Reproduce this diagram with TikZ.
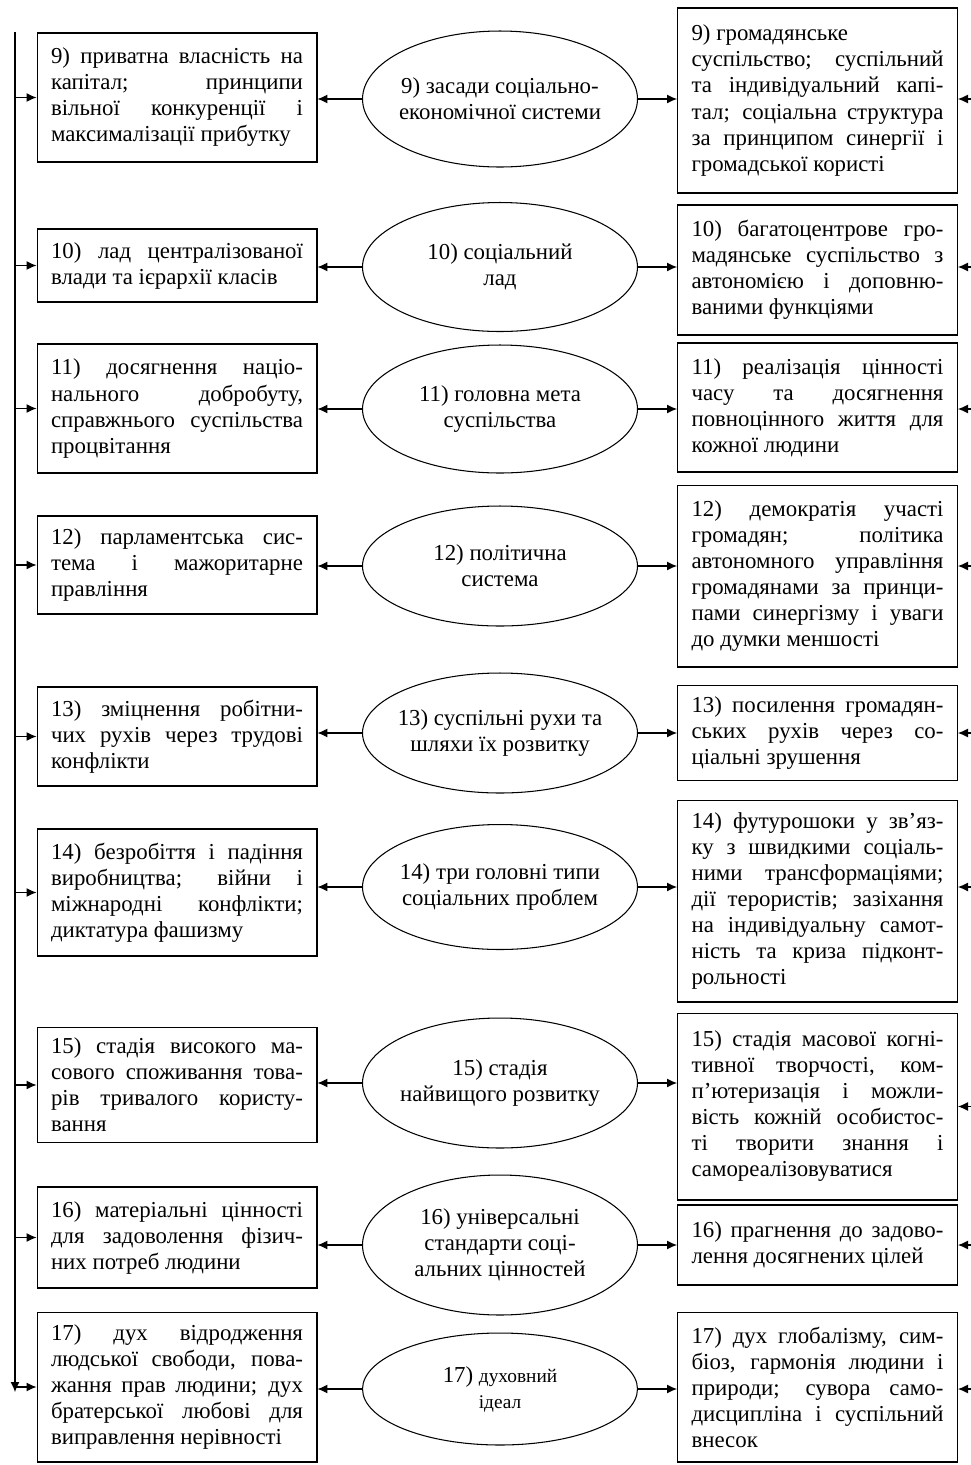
\documentclass[tikz,border=0pt]{standalone}
\usepackage{fontspec}
\setmainfont{Liberation Serif}
\usetikzlibrary{shapes.geometric, arrows.meta}

\begin{document}
\begin{tikzpicture}[x=0.02cm, y=-0.02cm, line width=0.6pt,
    font=\fontsize{13}{14.8}\selectfont,
    sbox/.style={draw, text width=5.04cm, inner xsep=0.28cm, inner ysep=0.1cm, align=justify},  % text boxes on both sides
    goal/.style={draw, ellipse, minimum width=5.5cm, inner xsep=-0.15cm, inner ysep=0pt, align=center},  % middle ellipses
    arr/.style={-{Latex[length=2mm,width=1.8mm]}}]  % small filled arrow tips
    \useasboundingbox (0,0) rectangle (971,1465);

    % Helper points
    \coordinate (top) at (15,32);  % upper end of the left line
    \coordinate (bot) at (15,1392);  % lower end of the left line
    \coordinate (rim) at (971,0);  % right edge of the page

    % Middle column
    \node (mid9) [goal, minimum height=2.72cm] at (500,99) {9) засади соціально-\\економічної системи};
    \node (mid10) [goal, minimum height=2.58cm] at (500,267) {10) соціальний\\лад};
    \node (mid11) [goal, minimum height=2.56cm] at (500,409) {11) головна мета\\суспільства};
    \node (mid12) [goal, minimum height=2.4cm] at (500,566) {12) політична\\система};
    \node (mid13) [goal, minimum height=2.4cm] at (500,733) {13) суспільні рухи та\\шляхи їх розвитку};
    \node (mid14) [goal, minimum height=2.5cm] at (500,887) {14) три головні типи\\соціальних проблем};
    \node (mid15) [goal, minimum height=2.6cm] at (500,1083) {15) стадія\\найвищого розвитку};
    \node (mid16) [goal, minimum height=2.8cm] at (500,1245) {16) універсальні\\стандарти соці-\\альних цінностей};
    \node (mid17) [goal, minimum height=2.24cm] at (500,1389) {17) {\fontsize{11}{13}\selectfont духовний}\\{\fontsize{11}{13}\selectfont ідеал}};

    % Left column
    \node (left9) [sbox, minimum height=2.58cm] at (177,97.5) {9) приватна власність на\linebreak капітал; принципи\linebreak вільної конкуренції і\linebreak максималізації прибутку};
    \node (left10) [sbox, minimum height=1.46cm] at (177,265.5) {10) лад централізованої\linebreak влади та ієрархії класів};
    \node (left11) [sbox, minimum height=2.58cm] at (177,408.5) {11) досягнення націо-\linebreak нального добробуту,\linebreak справжнього суспільства\linebreak процвітання};
    \node (left12) [sbox, minimum height=1.96cm] at (177,565) {12) парламентська сис-\linebreak тема і мажоритарне\linebreak правління};
    \node (left13) [sbox, minimum height=1.98cm] at (177,736.5) {13) зміцнення робітни-\linebreak чих рухів через трудові\linebreak конфлікти};
    \node (left14) [sbox, minimum height=2.54cm] at (177,892.5) {14) безробіття і падіння\linebreak виробництва; війни і\linebreak міжнародні конфлікти;\linebreak диктатура фашизму};
    \node (left15) [sbox, minimum height=2.3cm] at (177,1085) {15) стадія високого ма-\linebreak сового споживання това-\linebreak рів тривалого користу-\linebreak вання};
    \node (left16) [sbox, minimum height=2.02cm] at (177,1237.5) {16) матеріальні цінності\linebreak для задоволення фізич-\linebreak них потреб людини};
    \node (left17) [sbox, minimum height=3.0cm] at (177,1387) {17) дух відродження\linebreak людської свободи, пова-\linebreak жання прав людини; дух\linebreak братерської любові для\linebreak виправлення нерівності};

    % Right column
    \node (right9) [sbox, minimum height=3.7cm] at (817.5,100.5) {9) громадянське\newline суспільство; суспільний\linebreak та індивідуальний капі-\linebreak тал; соціальна структура\linebreak за принципом синергії і\linebreak громадської користі};
    \node (right10) [sbox, minimum height=2.6cm] at (817.5,270) {10) багатоцентрове гро-\linebreak мадянське суспільство з\linebreak автономією і доповню-\linebreak ваними функціями};
    \node (right11) [sbox, minimum height=2.58cm] at (817.5,407.5) {11) реалізація цінності\linebreak часу та досягнення\linebreak повноцінного життя для\linebreak кожної людини};
    \node (right12) [sbox, minimum height=3.64cm] at (817.5,576) {12) демократія участі\linebreak громадян; політика\linebreak автономного управління\linebreak громадянами за принци-\linebreak пами синергізму і уваги\linebreak до думки меншості};
    \node (right13) [sbox, minimum height=1.9cm] at (817.5,733) {13) посилення громадян-\linebreak ських рухів через со-\linebreak ціальні зрушення};
    \node (right14) [sbox, minimum height=4.04cm] at (817.5,901) {14) футурошоки у зв’яз-\linebreak ку з швидкими соціаль-\linebreak ними трансформаціями;\linebreak дії терористів; зазіхання\linebreak на індивідуальну самот-\linebreak ність та криза підконт-\linebreak рольності};
    \node (right15) [sbox, minimum height=3.74cm] at (817.5,1106.5) {15) стадія масової когні-\linebreak тивної творчості, ком-\linebreak п’ютеризація і можли-\linebreak вість кожній особистос-\linebreak ті творити знання і\linebreak самореалізовуватися};
    \node (right16) [sbox, minimum height=1.6cm] at (817.5,1245) {16) прагнення до задово-\linebreak лення досягнених цілей};
    \node (right17) [sbox, minimum height=3.0cm] at (817.5,1387) {17) дух глобалізму, сим-\linebreak біоз, гармонія людини і\linebreak природи; сувора само-\linebreak дисципліна і суспільний\linebreak внесок};

    % Left line
    \draw [arr] (top) -- (bot);

    % Arrows row by row
    \draw [arr] (mid9.west) -- (mid9.west -| left9.east);
    \draw [arr] (mid9.east) -- (mid9.east -| right9.west);
    \draw [arr] (left9.west -| top) -- (left9.west);
    \draw [arr] (mid9 -| rim) -- (mid9 -| right9.east);

    \draw [arr] (mid10.west) -- (mid10.west -| left10.east);
    \draw [arr] (mid10.east) -- (mid10.east -| right10.west);
    \draw [arr] (left10.west -| top) -- (left10.west);
    \draw [arr] (mid10 -| rim) -- (mid10 -| right10.east);

    \draw [arr] (mid11.west) -- (mid11.west -| left11.east);
    \draw [arr] (mid11.east) -- (mid11.east -| right11.west);
    \draw [arr] (left11.west -| top) -- (left11.west);
    \draw [arr] (mid11 -| rim) -- (mid11 -| right11.east);

    \draw [arr] (mid12.west) -- (mid12.west -| left12.east);
    \draw [arr] (mid12.east) -- (mid12.east -| right12.west);
    \draw [arr] (left12.west -| top) -- (left12.west);
    \draw [arr] (mid12 -| rim) -- (mid12 -| right12.east);

    \draw [arr] (mid13.west) -- (mid13.west -| left13.east);
    \draw [arr] (mid13.east) -- (mid13.east -| right13.west);
    \draw [arr] (left13.west -| top) -- (left13.west);
    \draw [arr] (mid13 -| rim) -- (mid13 -| right13.east);

    \draw [arr] (mid14.west) -- (mid14.west -| left14.east);
    \draw [arr] (mid14.east) -- (mid14.east -| right14.west);
    \draw [arr] (left14.west -| top) -- (left14.west);
    \draw [arr] (mid14 -| rim) -- (mid14 -| right14.east);

    \draw [arr] (mid15.west) -- (mid15.west -| left15.east);
    \draw [arr] (mid15.east) -- (mid15.east -| right15.west);
    \draw [arr] (left15.west -| top) -- (left15.west);
    \draw [arr] (right15.east -| rim) -- (right15.east);

    \draw [arr] (mid16.west) -- (mid16.west -| left16.east);
    \draw [arr] (mid16.east) -- (mid16.east -| right16.west);
    \draw [arr] (left16.west -| top) -- (left16.west);
    \draw [arr] (mid16 -| rim) -- (mid16 -| right16.east);

    \draw [arr] (mid17.west) -- (mid17.west -| left17.east);
    \draw [arr] (mid17.east) -- (mid17.east -| right17.west);
    \draw [arr] (left17.west -| top) -- (left17.west);
    \draw [arr] (mid17 -| rim) -- (mid17 -| right17.east);
\end{tikzpicture}
\end{document}
